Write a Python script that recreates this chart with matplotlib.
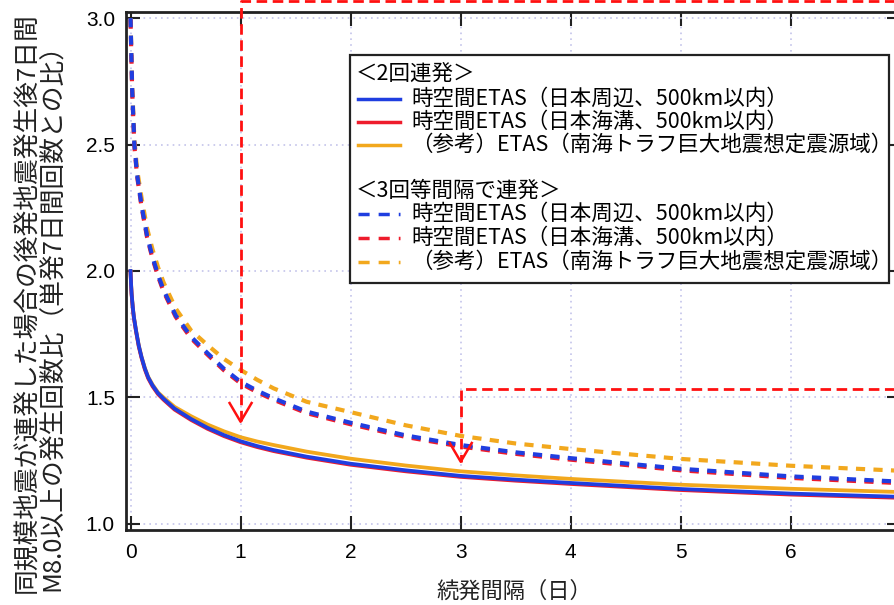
import matplotlib
matplotlib.use("Agg")
import matplotlib.pyplot as plt
from matplotlib.lines import Line2D
from matplotlib.patches import Rectangle

# ---- data ----
# 2 events (solid)
x_two = [0, 0.005, 0.01, 0.02, 0.03, 0.05, 0.075, 0.1, 0.13, 0.16, 0.2, 0.25, 0.3, 0.4,
         0.55, 0.7, 0.85, 1, 1.15, 1.3, 1.6, 2, 2.5, 3, 3.5, 4, 5, 6, 7]
blue_two = [2.0, 1.95, 1.91, 1.86, 1.82, 1.765, 1.705, 1.66, 1.615, 1.58, 1.548, 1.517,
            1.495, 1.456, 1.415, 1.38, 1.351, 1.327, 1.308, 1.292, 1.266, 1.238, 1.212,
            1.19, 1.175, 1.162, 1.138, 1.12, 1.107]
red_two = [1.996, 1.946, 1.906, 1.856, 1.816, 1.761, 1.701, 1.656, 1.611, 1.576, 1.544, 1.513,
           1.491, 1.452, 1.411, 1.376, 1.347, 1.323, 1.304, 1.288, 1.262, 1.234, 1.208,
           1.186, 1.171, 1.158, 1.134, 1.116, 1.103]
orange_two = [2.0, 1.95, 1.91, 1.86, 1.82, 1.765, 1.706, 1.661, 1.617, 1.582, 1.551, 1.52,
              1.50, 1.463, 1.426, 1.393, 1.366, 1.343, 1.326, 1.312, 1.286, 1.258, 1.231,
              1.208, 1.192, 1.178, 1.155, 1.139, 1.126]

# 3 events at equal intervals (dashed)
x_three = [0, 0.015, 0.035, 0.06, 0.1, 0.15, 0.2, 0.25, 0.3, 0.41, 0.55, 0.7, 0.85, 1,
           1.15, 1.3, 1.6, 2, 2.5, 3, 3.5, 4, 5, 6, 7]
blue_three = [3.0, 2.72, 2.5, 2.38, 2.26, 2.14, 2.055, 1.985, 1.925, 1.825, 1.74, 1.675,
              1.613, 1.562, 1.527, 1.497, 1.444, 1.40, 1.35, 1.312, 1.283, 1.26, 1.218,
              1.188, 1.167]
red_three = [2.994, 2.714, 2.494, 2.374, 2.254, 2.134, 2.049, 1.979, 1.919, 1.819, 1.734,
             1.669, 1.607, 1.556, 1.521, 1.491, 1.438, 1.394, 1.344, 1.306, 1.277, 1.254,
             1.212, 1.182, 1.161]
orange_three = [3.0, 2.73, 2.52, 2.40, 2.29, 2.17, 2.085, 2.015, 1.955, 1.852, 1.765, 1.707,
                1.652, 1.609, 1.57, 1.536, 1.483, 1.442, 1.39, 1.348, 1.318, 1.296, 1.257,
                1.23, 1.21]

x_ticks = [0, 1, 2, 3, 4, 5, 6]
y_ticks = [1.0, 1.5, 2.0, 2.5, 3.0]
y_ticklabels = ["1.0", "1.5", "2.0", "2.5", "3.0"]

head_two = "＜2回連発＞"
head_three = "＜3回等間隔で連発＞"
labels = ["時空間ETAS（日本周辺、500km以内）",
          "時空間ETAS（日本海溝、500km以内）",
          "（参考）ETAS（南海トラフ巨大地震想定震源域）"]
ylabel_1 = "同規模地震が連発した場合の後発地震発生後7日間"
ylabel_2 = "M8.0以上の発生回数比（単発7日間回数との比）"
xlabel = "続発間隔（日）"

# red arrows (x, y) paths
arrow1_x = [7.5, 1, 1]
arrow1_y = [3.067, 3.067, 1.404]
arrow2_x = [7.5, 3, 3]
arrow2_y = [1.532, 1.532, 1.246]

BLUE = "#1f3ee0"
RED = "#ee1c2c"
ORANGE = "#f2a81d"
colors = [BLUE, RED, ORANGE]

plt.rcParams["font.family"] = ["Liberation Sans", "Noto Sans CJK JP", "DejaVu Sans"]
JP = ["Noto Sans CJK JP", "DejaVu Sans"]

W, H = 894, 605
fig = plt.figure(figsize=(W / 100, H / 100), dpi=100)
ax = fig.add_axes([126 / W, 1 - 530 / H, (901 - 126) / W, (530 - 12) / H])

def px(x, y):
    return x / W, 1 - y / H

# curves: orange below, then red, blue on top
for ys, c in [(orange_two, ORANGE), (red_two, RED), (blue_two, BLUE)]:
    ax.plot(x_two, ys, color=c, lw=2.7, zorder=3)
for ys, c in [(orange_three, ORANGE), (red_three, RED), (blue_three, BLUE)]:
    ax.plot(x_three, ys, color=c, lw=3.0, dashes=(2.2, 2.0), zorder=3)

# red dashed arrows
for ax_x, ax_y in [(arrow1_x, arrow1_y), (arrow2_x, arrow2_y)]:
    ax.plot(ax_x, ax_y, color="#ff1010", lw=2.0, dashes=(3.8, 2.0), clip_on=False, zorder=4)
    tx, ty = ax_x[-1], ax_y[-1]
    ax.plot([tx - 0.1, tx, tx + 0.1], [ty + 0.074, ty, ty + 0.074],
            color="#ff1010", lw=1.8, clip_on=False, zorder=4)

ax.set_xlim(-0.041, 7.0)
ax.set_ylim(0.976, 3.024)
ax.set_xticks(x_ticks)
ax.set_yticks(y_ticks)
ax.set_yticklabels(y_ticklabels)
ax.tick_params(direction="in", length=10, width=1.5, top=True, right=True,
               labelsize=15, color="#222222")
ax.tick_params(axis="x", pad=9.5)
ax.tick_params(axis="y", pad=8)
for s in ax.spines.values():
    s.set_linewidth(2.0)
    s.set_color("#222222")
ax.grid(True, color="#c4c4ea", linestyle=(0, (1, 2.5)), linewidth=1.2)
ax.set_axisbelow(True)

# axis labels
fig.text(*px(27, 303), ylabel_1, rotation=90, ha="center", va="center",
         fontsize=18.5, family=JP, color="#222222")
fig.text(*px(53, 311), ylabel_2, rotation=90, ha="center", va="center",
         fontsize=18.5, family=JP, color="#222222")
fig.text(*px(514, 591), xlabel, ha="center", va="center", fontsize=16,
         family=JP, color="#222222")

# legend box drawn by hand (two groups with headers)
x0, y0, x1, y1 = px(350, 55) + px(889, 283)
fig.add_artist(Rectangle((x0, y1), x1 - x0, y0 - y1, transform=fig.transFigure,
                         facecolor="white", edgecolor="#222222", lw=1.6, zorder=10))
fs = 15.5
fig.text(*px(356, 74), head_two, ha="left", va="center", fontsize=fs, family=JP, zorder=11)
fig.text(*px(356, 191), head_three, ha="left", va="center", fontsize=fs, family=JP, zorder=11)
rows_two = [99, 122, 145]
rows_three = [214, 238, 262]
for lab, c, yr in zip(labels, colors, rows_two):
    fig.add_artist(Line2D([358 / W, 400 / W], [1 - yr / H] * 2, color=c, lw=2.5, zorder=11))
    fig.text(*px(411, yr), lab, ha="left", va="center", fontsize=fs, family=JP, zorder=11)
for lab, c, yr in zip(labels, colors, rows_three):
    fig.add_artist(Line2D([358 / W, 400 / W], [1 - yr / H] * 2, color=c, lw=2.5,
                          dashes=(3.2, 2.6), zorder=11))
    fig.text(*px(411, yr), lab, ha="left", va="center", fontsize=fs, family=JP, zorder=11)

fig.savefig("out.png", dpi=100)
